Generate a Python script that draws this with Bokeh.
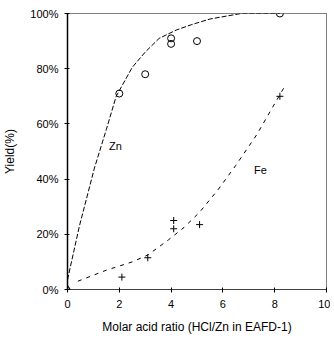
from bokeh.plotting import figure
from bokeh.models import FixedTicker, Label
from bokeh.embed import file_html
from bokeh.resources import INLINE

# Measured points
zn_x = [2, 3, 4, 4, 5, 8.2]
zn_y = [71, 78, 89, 91, 90, 100]
fe_x = [2.1, 3.1, 4.1, 4.1, 5.1, 8.2]
fe_y = [4.5, 11.5, 22, 25, 23.5, 70]
origin_x = [0]
origin_y = [0]

# Fitted curves
zn_cx = [0, 0.46, 1.04, 1.5, 1.88, 2.5, 3.0, 3.54, 4.2, 4.8, 5.5, 6.7, 8.2]
zn_cy = [3.5, 23, 44, 58, 70, 80.5, 86, 91, 94, 96, 98, 100, 100]
fe_cx = [0.4, 1.5, 2.5, 3.1, 3.9, 4.5, 5.1, 5.8, 6.5, 7.3, 8.35]
fe_cy = [3, 7, 10, 12.5, 18, 22.5, 28, 36, 45, 56, 73]

x_ticks = [0, 2, 4, 6, 8, 10]
y_ticks = [0, 20, 40, 60, 80, 100]
y_tick_labels = ["0%", "20%", "40%", "60%", "80%", "100%"]

FONT = "Liberation Sans"

p = figure(width=330, height=336, x_range=(0, 10), y_range=(0, 100),
           output_backend="svg", toolbar_location=None,
           min_border_left=67, min_border_right=4, min_border_top=13, min_border_bottom=46)
p.grid.visible = False
p.background_fill_color = "white"
p.outline_line_color = "black"
p.outline_line_dash = "1 1"
p.outline_line_width = 1

p.xaxis.ticker = FixedTicker(ticks=x_ticks)
p.yaxis.ticker = FixedTicker(ticks=y_ticks)
p.yaxis.major_label_overrides = {t: l for t, l in zip(y_ticks, y_tick_labels)}
for ax in (p.xaxis, p.yaxis):
    ax.minor_tick_line_color = None
    ax.major_tick_out = 3
    ax.major_tick_in = 2
    ax.major_label_text_font = FONT
    ax.major_label_text_font_size = "11px"
    ax.major_label_text_color = "black"
    ax.axis_label_text_font = FONT
    ax.axis_label_text_font_size = "12px"
    ax.axis_label_text_font_style = "normal"
    ax.axis_label_text_color = "black"
    ax.major_tick_line_color = "black"
p.xaxis.axis_line_dash = "1 1"
p.yaxis.axis_line_width = 1.5
p.xaxis.major_label_standoff = 7
p.yaxis.major_label_standoff = 6
p.xaxis.axis_label = "Molar acid ratio (HCl/Zn in EAFD-1)"
p.yaxis.axis_label = "Yield(%)"
p.xaxis.axis_label_standoff = 9
p.yaxis.axis_label_standoff = 10

p.line(zn_cx, zn_cy, line_color="black", line_width=1, line_dash="5 2")
p.line(fe_cx, fe_cy, line_color="black", line_width=1, line_dash="4 5")

p.scatter(zn_x, zn_y, marker="circle", size=7, fill_color=None, line_color="black", line_width=1)
p.scatter(fe_x, fe_y, marker="cross", size=7, line_color="black", line_width=1)
p.scatter(origin_x, origin_y, marker="diamond", size=8, fill_color="white", line_color="black", line_width=1.2)

p.add_layout(Label(x=1.6, y=50, text="Zn", text_font=FONT, text_font_size="11px", text_color="black"))
p.add_layout(Label(x=7.2, y=41, text="Fe", text_font=FONT, text_font_size="11px", text_color="black"))

open("out.html", "w").write(file_html(p, INLINE))
